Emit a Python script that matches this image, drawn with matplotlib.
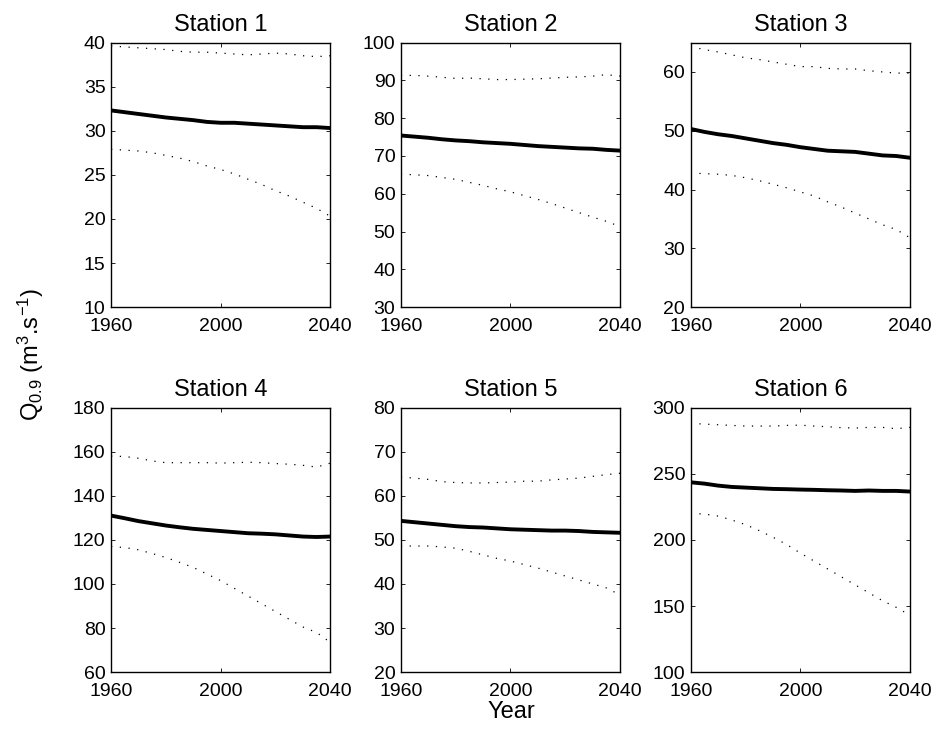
import numpy as np
import matplotlib
matplotlib.use("Agg")
import matplotlib.pyplot as plt

plt.rcParams["font.family"] = ["Liberation Sans", "DejaVu Sans"]
plt.rcParams["mathtext.fontset"] = "custom"
plt.rcParams["mathtext.rm"] = "Liberation Sans"
plt.rcParams["mathtext.it"] = "Liberation Sans:italic"
plt.rcParams["mathtext.bf"] = "Liberation Sans:bold"

# ==========================
# Data
# ==========================
years = list(range(1960, 2041, 5))

stations = ["Station 1", "Station 2", "Station 3", "Station 4", "Station 5", "Station 6"]

mean_1 = [32.3, 32.1, 31.9, 31.7, 31.5, 31.35, 31.2, 31.0, 30.9, 30.9, 30.8, 30.7, 30.6, 30.5, 30.4, 30.4, 30.3]
upper_1 = [39.6, 39.5, 39.4, 39.3, 39.2, 39.0, 38.9, 38.9, 38.8, 38.7, 38.6, 38.7, 38.8, 38.7, 38.5, 38.4, 38.5]
lower_1 = [27.9, 27.8, 27.7, 27.5, 27.2, 26.9, 26.5, 26.0, 25.6, 25.1, 24.5, 23.9, 23.2, 22.6, 21.9, 21.2, 20.3]

mean_2 = [75.4, 75.1, 74.8, 74.4, 74.1, 73.9, 73.6, 73.4, 73.2, 72.9, 72.6, 72.4, 72.2, 72.0, 71.9, 71.6, 71.4]
upper_2 = [91.3, 91.3, 91.1, 90.8, 90.5, 90.6, 90.4, 90.2, 90.2, 90.3, 90.4, 90.6, 90.8, 90.9, 91.1, 91.5, 91.1]
lower_2 = [65.2, 65.0, 64.8, 64.3, 63.8, 63.0, 62.2, 61.3, 60.5, 59.5, 58.5, 57.4, 56.2, 55.0, 53.8, 52.7, 51.3]

mean_3 = [50.3, 49.8, 49.4, 49.1, 48.7, 48.3, 47.9, 47.6, 47.2, 46.9, 46.6, 46.5, 46.4, 46.1, 45.8, 45.7, 45.4]
upper_3 = [64.3, 63.8, 63.4, 62.9, 62.4, 62.1, 61.7, 61.3, 60.9, 60.9, 60.6, 60.5, 60.5, 60.2, 60.0, 59.8, 59.8]
lower_3 = [42.8, 42.7, 42.6, 42.4, 42.0, 41.5, 40.9, 40.3, 39.6, 38.9, 37.9, 37.0, 36.0, 35.0, 34.0, 33.2, 31.8]

mean_4 = [131.0, 129.8, 128.5, 127.5, 126.5, 125.7, 125.0, 124.5, 124.0, 123.5, 123.0, 122.8, 122.5, 122.0, 121.5, 121.3, 121.5]
upper_4 = [158.0, 157.8, 157.0, 155.8, 155.0, 155.0, 155.0, 155.0, 154.8, 155.0, 155.2, 155.0, 154.6, 154.3, 153.8, 153.0, 154.8]
lower_4 = [117.0, 116.5, 115.5, 113.8, 112.0, 109.8, 107.5, 104.5, 101.5, 98.0, 94.5, 91.0, 87.5, 84.0, 80.5, 78.0, 73.5]

mean_5 = [54.3, 54.0, 53.7, 53.4, 53.1, 52.9, 52.8, 52.6, 52.4, 52.3, 52.2, 52.1, 52.1, 52.0, 51.8, 51.7, 51.6]
upper_5 = [64.2, 64.0, 63.7, 63.2, 63.0, 62.9, 62.9, 63.0, 63.1, 63.3, 63.3, 63.6, 63.8, 64.0, 64.4, 64.8, 65.1]
lower_5 = [48.6, 48.6, 48.6, 48.4, 48.1, 47.4, 46.6, 45.8, 45.2, 44.4, 43.6, 42.7, 41.8, 40.9, 40.0, 39.1, 37.5]

mean_6 = [243.5, 242.5, 241.0, 240.0, 239.5, 239.0, 238.5, 238.3, 238.0, 237.8, 237.5, 237.3, 237.0, 237.3, 237.0, 237.0, 236.5]
upper_6 = [288.0, 287.5, 287.0, 286.5, 286.0, 286.0, 286.0, 286.5, 286.7, 286.0, 285.5, 284.8, 284.5, 285.0, 285.0, 284.0, 285.0]
lower_6 = [220.0, 219.5, 218.0, 215.0, 211.5, 207.0, 202.0, 196.5, 190.0, 184.0, 178.0, 172.0, 166.0, 160.0, 154.0, 149.0, 143.0]

means = [mean_1, mean_2, mean_3, mean_4, mean_5, mean_6]
uppers = [upper_1, upper_2, upper_3, upper_4, upper_5, upper_6]
lowers = [lower_1, lower_2, lower_3, lower_4, lower_5, lower_6]

y_limits = [(10, 40), (30, 100), (20, 65), (60, 180), (20, 80), (100, 300)]
y_steps = [5, 10, 10, 20, 10, 50]
x_ticks = [1960, 2000, 2040]


# ==========================
# Figure
# ==========================
fig = plt.figure(figsize=(9.41, 7.33), dpi=100)

lefts = [0.118, 0.426, 0.734]
bottoms = [0.581, 0.083]
width = 0.233
height = 0.361

for i in range(6):
    row, col = divmod(i, 3)
    ax = fig.add_axes([lefts[col], bottoms[row], width, height])

    ax.plot(years, means[i], color="black", linewidth=2.8)
    ax.plot(years, uppers[i], color="black", linewidth=0.9, linestyle=(0, (1, 6)))
    ax.plot(years, lowers[i], color="black", linewidth=0.9, linestyle=(0, (1, 6)))

    lo, hi = y_limits[i]
    ax.set_xlim(1960, 2040)
    ax.set_ylim(lo, hi)
    ax.set_xticks(x_ticks)
    ax.set_yticks(np.arange(lo, hi + 0.1, y_steps[i]))

    ax.tick_params(direction="in", length=3, width=0.6, top=True, right=True,
                   labelsize=14)
    ax.tick_params(axis="x", pad=8)
    ax.tick_params(axis="y", pad=4)
    for spine in ax.spines.values():
        spine.set_linewidth(1.0)

    ax.set_title(stations[i], fontsize=17, pad=8)

fig.text(0.543, 0.021, "Year", ha="center", va="baseline", fontsize=17)
fig.text(0.033, 0.516, r"Q$_{0.9}$ (m$^3$.s$^{-1}$)", ha="center", va="center",
         rotation=90, fontsize=17)

fig.savefig("out.png", dpi=100)
